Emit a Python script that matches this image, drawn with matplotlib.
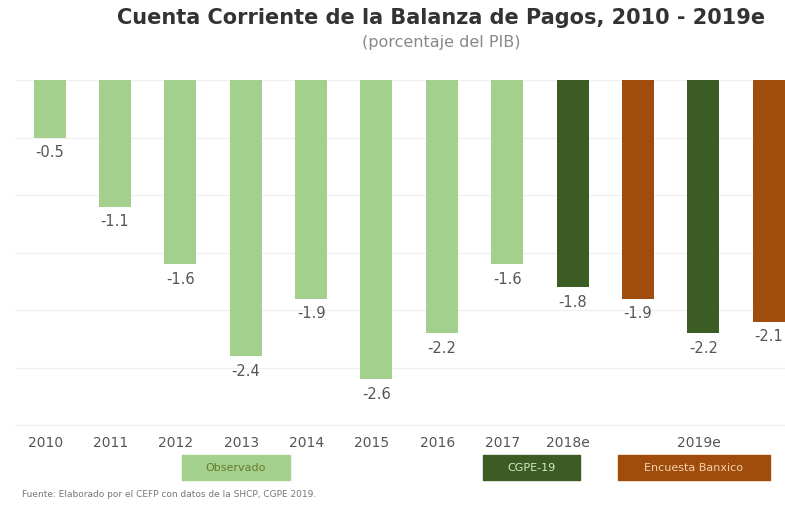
#!/usr/bin/env python3

import numpy as np
import matplotlib.pyplot as plt
from matplotlib.patches import Rectangle

# data
values = [-0.5, -1.1, -1.6, -2.4, -1.9, -2.6, -2.2, -1.6, -1.8, -1.9, -2.2, -2.1]
groups = ['obs', 'obs', 'obs', 'obs', 'obs', 'obs', 'obs', 'obs',
          'cgpe', 'banxico', 'cgpe', 'banxico']
tick_pos = [0, 1, 2, 3, 4, 5, 6, 7, 8, 10]
tick_labels = ['2010', '2011', '2012', '2013', '2014', '2015', '2016', '2017',
               '2018e', '2019e']
legend_names = ['Observado', 'CGPE-19', 'Encuesta Banxico']

colors = {'obs': '#a4d08e', 'cgpe': '#3b5d23', 'banxico': '#a04c0d'}

fig = plt.figure(figsize=(7.85, 5.06), dpi=100)
ax = fig.add_axes([15 / 785, 1 - 426 / 506, 770 / 785, (426 - 81) / 506])

x = np.arange(len(values))
ax.bar(x, values, width=0.49, color=[colors[g] for g in groups], zorder=3)

for xi, v in zip(x, values):
    ax.text(xi, v - 0.06, '%.1f' % v, ha='center', va='top',
            fontsize=10.5, color='#555555', zorder=4)

ax.set_ylim(-3.0, 0)
ax.set_xlim(-0.53, 11.25)
ax.set_yticks(np.arange(-3.0, 0.01, 0.5))
ax.yaxis.grid(True, color='#f0f0f0', linewidth=1, zorder=0)
ax.tick_params(axis='y', left=False, labelleft=False)
ax.set_xticks([p - 0.07 for p in tick_pos])
ax.set_xticklabels(tick_labels, fontsize=10, color='#555555')
ax.tick_params(axis='x', length=0, pad=7)
for s in ['top', 'right', 'left']:
    ax.spines[s].set_visible(False)
ax.spines['bottom'].set_color('#eeeeee')

# title
fig.text(0.562, 1 - 18 / 506, 'Cuenta Corriente de la Balanza de Pagos, 2010 - 2019e',
         ha='center', va='center', fontsize=15, fontweight='bold', color='#333333')
fig.text(0.562, 1 - 43 / 506, '(porcentaje del PIB)', ha='center', va='center',
         fontsize=11.5, color='#888888')

# legend boxes
boxes = [(182, 290, 'obs', '#6b7a2a'), (483, 580, 'cgpe', '#d8e8c8'),
         (618, 770, 'banxico', '#f3d3b0')]
for name, (x0, x1, g, tc) in zip(legend_names, boxes):
    fig.patches.append(Rectangle((x0 / 785, 1 - 481 / 506), (x1 - x0) / 785, 25 / 506,
                                 transform=fig.transFigure, color=colors[g]))
    fig.text((x0 + x1) / 2 / 785, 1 - 468.5 / 506, name, ha='center', va='center',
             fontsize=8, color=tc)

fig.text(22 / 785, 1 - 495 / 506,
         'Fuente: Elaborado por el CEFP con datos de la SHCP, CGPE 2019.',
         ha='left', va='center', fontsize=6.5, color='#777777')

plt.savefig('out.png', dpi=100)
